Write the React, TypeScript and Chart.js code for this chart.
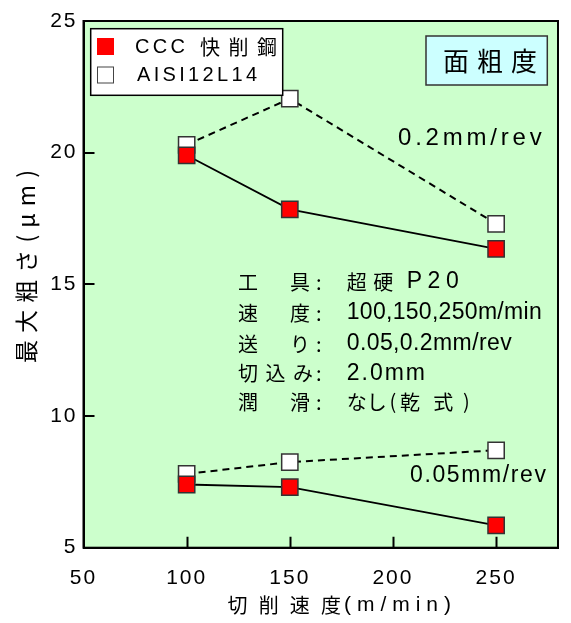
import React, { useEffect, useRef } from "react";
import { Chart, registerables } from "chart.js";
Chart.register(...registerables);

const speeds = [100, 150, 250];
const ccc02 = [19.9, 17.85, 16.35];
const aisi02 = [20.3, 22.05, 17.3];
const ccc005 = [7.4, 7.3, 5.85];
const aisi005 = [7.8, 8.25, 8.7];

const xMin = 50;
const xMax = 280;
const xStep = 50;
const yMin = 5;
const yMax = 25;
const yStep = 5;

const legendLabels = ["CCC", "快削鋼", "AISI12L14"];
const panelTitle = "面粗度";
const xTitle = ["切削速度", "(m/min)"];
const yTitle = "最大粗さ(μm)";
const feedLabels = ["0.2mm/rev", "0.05mm/rev"];

const JP = '"Noto Sans CJK JP", "Noto Sans", sans-serif';
const LAT = '"Liberation Sans", "Noto Sans CJK JP", sans-serif';

function fitText(ctx: CanvasRenderingContext2D, text: string, x: number, y: number, width: number, font: string) {
  ctx.save();
  ctx.font = font;
  (ctx as any).letterSpacing = "0px";
  const w = ctx.measureText(text).width;
  const n = Array.from(text).length;
  const sp = n > 1 ? (width - w) / (n - 1) : 0;
  (ctx as any).letterSpacing = sp + "px";
  ctx.textAlign = "left";
  ctx.textBaseline = "middle";
  ctx.fillStyle = "#000";
  ctx.fillText(text, x, y);
  ctx.restore();
}

function plainText(ctx: CanvasRenderingContext2D, text: string, x: number, y: number, font: string) {
  ctx.save();
  ctx.font = font;
  (ctx as any).letterSpacing = "0px";
  ctx.textAlign = "left";
  ctx.textBaseline = "middle";
  ctx.fillStyle = "#000";
  ctx.fillText(text, x, y);
  ctx.restore();
}

const decorPlugin = {
  id: "decor",
  beforeDraw(chart: any) {
    const { ctx, chartArea: a } = chart;
    ctx.save();
    ctx.fillStyle = "#ccffcc";
    ctx.fillRect(a.left, a.top, a.right - a.left, a.bottom - a.top);
    ctx.restore();
    (ctx as any).letterSpacing = "2px";
  },
  beforeDatasetsDraw(chart: any) {
    (chart.ctx as any).letterSpacing = "0px";
  },
  afterDraw(chart: any) {
    const { ctx, chartArea: a } = chart;
    const xs = chart.scales.x;
    const ys = chart.scales.y;
    ctx.save();
    (ctx as any).letterSpacing = "0px";
    // inward ticks
    ctx.strokeStyle = "#000";
    ctx.lineWidth = 2;
    ctx.beginPath();
    xs.ticks.forEach((t: any) => {
      if (t.value <= xMin || t.value >= xMax) return;
      const px = Math.round(xs.getPixelForValue(t.value)) + 0.5;
      ctx.moveTo(px, a.bottom);
      ctx.lineTo(px, a.bottom - 11);
    });
    ys.ticks.forEach((t: any) => {
      if (t.value <= yMin || t.value >= yMax) return;
      const py = Math.round(ys.getPixelForValue(t.value));
      ctx.moveTo(a.left, py);
      ctx.lineTo(a.left + 11, py);
    });
    ctx.stroke();
    // frame
    ctx.lineWidth = 2;
    ctx.strokeRect(a.left, a.top, a.right - a.left, a.bottom - a.top);

    // legend box
    ctx.fillStyle = "#fff";
    ctx.fillRect(90.7, 28.7, 192, 66.6);
    ctx.lineWidth = 1.5;
    ctx.strokeStyle = "#000";
    ctx.strokeRect(90.7, 28.7, 192, 66.6);
    ctx.fillStyle = "#ff0000";
    ctx.fillRect(97, 38, 17, 17);
    ctx.fillStyle = "#fff";
    ctx.fillRect(97.5, 67, 16, 16);
    ctx.strokeStyle = "#444";
    ctx.lineWidth = 1;
    ctx.strokeRect(97.5, 67, 16, 16);
    fitText(ctx, legendLabels[0], 135, 47, 50, `20px ${LAT}`);
    fitText(ctx, legendLabels[1], 200, 47, 77, `20px ${JP}`);
    fitText(ctx, legendLabels[2], 137, 75.5, 120, `20px ${LAT}`);

    // panel title
    ctx.fillStyle = "#ccffff";
    ctx.fillRect(426, 36, 121.3, 49);
    ctx.strokeStyle = "#333";
    ctx.lineWidth = 1.5;
    ctx.strokeRect(426, 36, 121.3, 49);
    fitText(ctx, panelTitle, 443, 61, 94, `26px ${JP}`);

    // feed labels
    fitText(ctx, feedLabels[0], 398, 138, 143.7, `24px ${LAT}`);
    fitText(ctx, feedLabels[1], 410, 475.5, 136, `23px ${LAT}`);

    // condition block
    const cj = `20px ${JP}`;
    const lt = `23px ${LAT}`;
    const rows = [282, 313, 344, 373.5, 402];
    const two = [["工", "具"], ["速", "度"], ["送", "り"], null, ["潤", "滑"]];
    two.forEach((p, i) => {
      if (p) {
        plainText(ctx, p[0], 238, rows[i], cj);
        plainText(ctx, p[1], 290, rows[i], cj);
      }
      plainText(ctx, ":", 316, rows[i], cj);
    });
    fitText(ctx, "切込み", 238, rows[3], 75, cj);
    fitText(ctx, "超硬", 346.7, rows[0], 46.6, cj);
    fitText(ctx, "P20", 406.7, rows[0], 52, `23px ${LAT}`);
    fitText(ctx, "100,150,250m/min", 346.7, rows[1], 195, lt);
    fitText(ctx, "0.05,0.2mm/rev", 346.7, rows[2], 165, lt);
    fitText(ctx, "2.0mm", 346.7, rows[3], 78.3, lt);
    fitText(ctx, "なし", 346.7, rows[4], 40, cj);
    plainText(ctx, "(", 389.5, rows[4] - 1, cj);
    fitText(ctx, "乾式", 400, rows[4], 53.3, cj);
    plainText(ctx, ")", 463, rows[4] - 1, cj);

    // axis titles
    fitText(ctx, xTitle[0], 227.6, 605, 113.4, `20px ${JP}`);
    fitText(ctx, xTitle[1], 344, 605, 107, `21px ${LAT}`);
    ctx.save();
    ctx.translate(26.5, 266.5);
    ctx.rotate(-Math.PI / 2);
    fitText(ctx, yTitle, -96.5, 0, 193, `23px ${JP}`);
    ctx.restore();
    ctx.restore();
  },
};

function pts(vals: number[]) {
  return speeds.map((s, i) => ({ x: s, y: vals[i] }));
}

export default function App() {
  const ref = useRef<HTMLCanvasElement>(null);
  useEffect(() => {
    if (!ref.current) return;
    const mk = (label: string, vals: number[], fill: string, dashed: boolean) => ({
      label,
      data: pts(vals),
      borderColor: "#000",
      borderWidth: dashed ? 2 : 1.8,
      borderDash: dashed ? [7, 5] : [],
      pointStyle: "rect",
      pointRadius: 11.5,
      pointBackgroundColor: fill,
      pointBorderColor: "#333",
      pointBorderWidth: 1.5,
      showLine: true,
      fill: false,
      tension: 0,
    });
    const chart = new Chart(ref.current, {
      type: "scatter",
      data: {
        datasets: [
          mk("CCC 快削鋼 0.2", ccc02, "#ff0000", false),
          mk("CCC 快削鋼 0.05", ccc005, "#ff0000", false),
          mk("AISI12L14 0.2", aisi02, "#ffffff", true),
          mk("AISI12L14 0.05", aisi005, "#ffffff", true),
        ] as any,
      },
      options: {
        animation: false,
        responsive: false,
        devicePixelRatio: 1,
        layout: { padding: { left: 0, top: 21, right: 2, bottom: 0 } },
        plugins: { legend: { display: false }, tooltip: { enabled: false } },
        scales: {
          x: {
            type: "linear",
            min: xMin,
            max: xMax,
            grid: { display: false, drawTicks: false },
            border: { display: true, color: "#000", width: 2 },
            ticks: {
              stepSize: xStep,
              includeBounds: false,
              color: "#000",
              padding: 18,
              font: { family: "Liberation Sans", size: 21 },
            },
            afterFit: (s: any) => {
              s.height = 75.3;
            },
          },
          y: {
            type: "linear",
            min: yMin,
            max: yMax,
            grid: { display: false, drawTicks: false },
            border: { display: true, color: "#000", width: 2 },
            ticks: {
              stepSize: yStep,
              color: "#000",
              padding: 6,
              font: { family: "Liberation Sans", size: 21 },
            },
            afterFit: (s: any) => {
              s.width = 83.5;
            },
          },
        },
      } as any,
      plugins: [decorPlugin],
    });
    return () => chart.destroy();
  }, []);
  return (
    <div style={{ position: "absolute", left: 0, top: 0, width: 571, height: 623, background: "#fff" }}>
      <canvas ref={ref} width={571} height={623} style={{ display: "block", width: 571, height: 623 }} />
    </div>
  );
}
